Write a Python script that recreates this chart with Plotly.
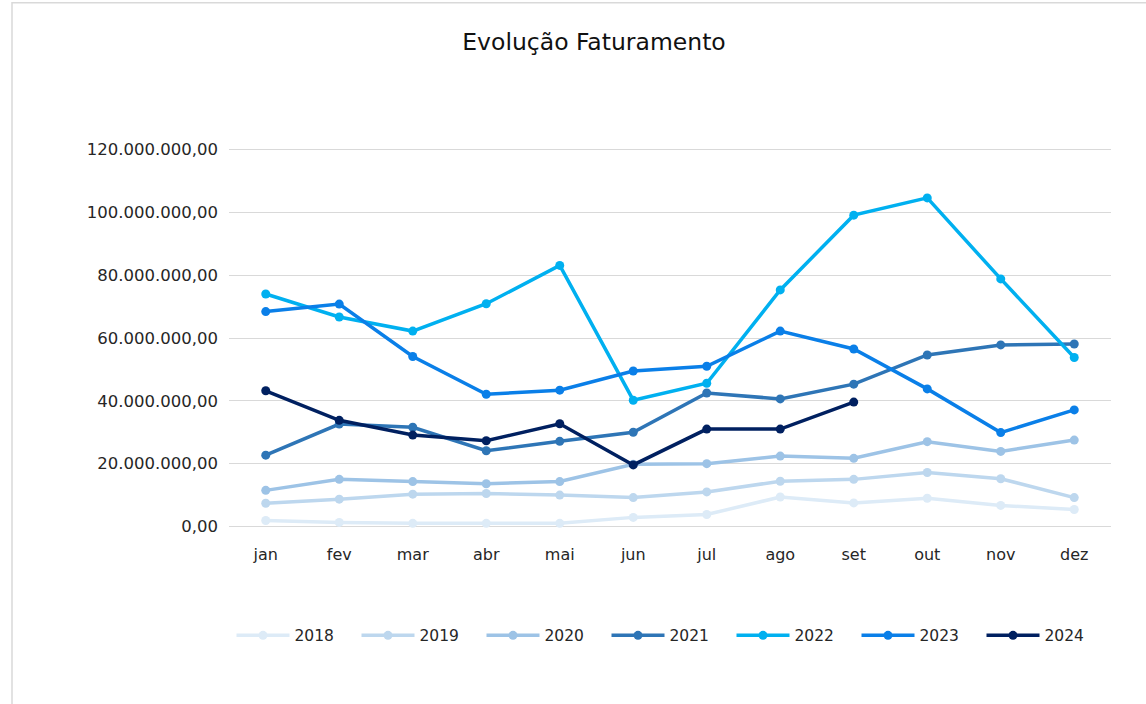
import plotly.graph_objects as go

months = ["jan", "fev", "mar", "abr", "mai", "jun", "jul", "ago", "set", "out", "nov", "dez"]

v2018 = [1.9e6, 1.3e6, 1.0e6, 1.0e6, 1.0e6, 2.9e6, 3.8e6, 9.4e6, 7.5e6, 9.0e6, 6.7e6, 5.4e6]
v2019 = [7.4e6, 8.7e6, 10.3e6, 10.5e6, 10.0e6, 9.2e6, 11.0e6, 14.4e6, 15.0e6, 17.2e6, 15.2e6, 9.2e6]
v2020 = [11.5e6, 15.0e6, 14.3e6, 13.6e6, 14.3e6, 19.8e6, 20.0e6, 22.4e6, 21.7e6, 27.0e6, 23.9e6, 27.5e6]
v2021 = [22.7e6, 32.6e6, 31.6e6, 24.1e6, 27.1e6, 30.0e6, 42.5e6, 40.6e6, 45.3e6, 54.6e6, 57.8e6, 58.1e6]
v2022 = [74.0e6, 66.7e6, 62.2e6, 70.9e6, 83.1e6, 40.2e6, 45.6e6, 75.3e6, 99.1e6, 104.6e6, 78.8e6, 53.8e6]
v2023 = [68.4e6, 70.8e6, 54.1e6, 42.1e6, 43.4e6, 49.5e6, 51.0e6, 62.2e6, 56.5e6, 43.8e6, 29.9e6, 37.1e6]
v2024 = [43.2e6, 33.8e6, 29.1e6, 27.3e6, 32.7e6, 19.6e6, 31.0e6, 31.0e6, 39.6e6]

series = [
    ("2018", v2018, "#DDEBF7"),
    ("2019", v2019, "#BDD7EE"),
    ("2020", v2020, "#9DC3E6"),
    ("2021", v2021, "#2E75B6"),
    ("2022", v2022, "#00B0F0"),
    ("2023", v2023, "#0A7FE8"),
    ("2024", v2024, "#002060"),
]

FONT = "DejaVu Sans, sans-serif"
TXT = "#262626"

fig = go.Figure()
for name, vals, color in series:
    fig.add_trace(go.Scatter(
        x=months[:len(vals)], y=vals, name=name, mode="lines+markers",
        line=dict(color=color, width=3.5),
        marker=dict(color=color, size=9, symbol="circle"),
    ))

# plot area: x 229..1111, y 150 (120M) .. 526 (0); pad range a little so edge gridlines draw
pad = 0.8e6
ppu = 376 / 120e6
padpx = pad * ppu
L, R = 229, 35
T, B = 150 - padpx, 178 - padpx
W, H = 1146, 704
pw = W - L - R
ph = H - T - B
y0px = H - B  # pixel of y=-pad

def ypaper(px):
    return (y0px - px) / ph

fig.update_layout(
    width=W, height=H,
    margin=dict(l=L, r=R, t=T, b=B, autoexpand=False),
    paper_bgcolor="white", plot_bgcolor="white",
    separators=",.",
    font=dict(family=FONT, size=15, color=TXT),
    title=dict(text="Evolução Faturamento", x=594 / W, xanchor="center",
               y=1 - 42 / H, yanchor="middle",
               font=dict(family=FONT, size=23.5, color="#111111")),
    xaxis=dict(range=[-0.5, 11.5], showgrid=False, zeroline=False, showline=False,
               ticks="", ticklabelstandoff=14, tickfont=dict(size=16, color=TXT)),
    yaxis=dict(range=[-pad, 120e6 + pad], tick0=0, dtick=20e6, tickformat=",.2f",
               showgrid=True, gridcolor="#D9D9D9", gridwidth=1.3,
               zeroline=False, showline=False, ticks="", ticklabelstandoff=10,
               tickfont=dict(size=16.5, color=TXT)),
    legend=dict(orientation="h", x=(669 - L) / pw, xanchor="center",
                y=ypaper(635), yanchor="middle",
                font=dict(family=FONT, size=15.5, color=TXT),
                itemwidth=53, entrywidth=57, traceorder="normal"),
    showlegend=True,
)

# outer chart border
fig.add_shape(type="rect", xref="paper", yref="paper",
              x0=(12 - L) / pw, x1=(W + 20 - L) / pw,
              y0=ypaper(H + 20), y1=ypaper(3.5),
              line=dict(color="#D9D9D9", width=1.5), fillcolor="rgba(0,0,0,0)",
              layer="below")

fig.write_html("out.html", config={"displayModeBar": False},
               post_script="document.body.style.margin='0px';document.body.style.overflow='hidden';")
